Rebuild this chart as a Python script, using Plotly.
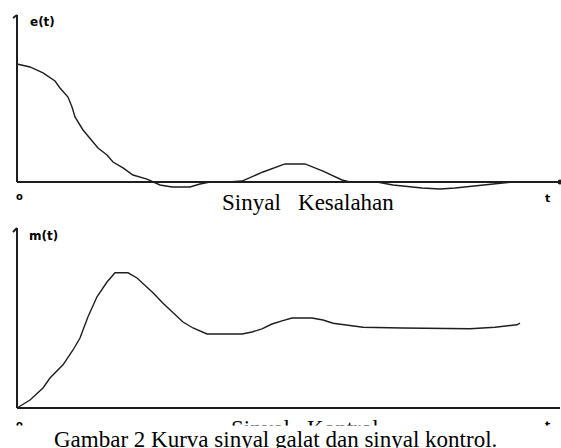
import plotly.graph_objects as go

# sinyal kesalahan e(t)
t_e = [0.00, 0.26, 0.52, 0.76, 0.86, 1.02, 1.10, 1.16, 1.32, 1.46, 1.62, 1.80, 1.92,
       2.12, 2.32, 2.60, 2.72, 2.86, 3.10, 3.46, 3.66, 3.86, 4.22, 4.50, 4.92, 5.36,
       5.76, 6.12, 6.50, 6.66, 7.20, 7.52, 8.10, 8.46, 8.76, 9.32, 9.60, 9.90]
e_vals = [1.000, 0.975, 0.924, 0.856, 0.797, 0.720, 0.636, 0.551, 0.441, 0.373, 0.288,
          0.229, 0.169, 0.119, 0.059, 0.025, 0.000, -0.025, -0.042, -0.042, -0.017,
          0.000, 0.000, 0.008, 0.085, 0.153, 0.153, 0.093, 0.017, 0.000, 0.000, -0.025,
          -0.051, -0.059, -0.051, -0.025, -0.008, 0.000]

# sinyal kontrol m(t)
t_m = [0.00, 0.26, 0.52, 0.66, 0.92, 1.12, 1.26, 1.42, 1.60, 1.80, 1.96, 2.22, 2.40,
       2.52, 2.72, 2.92, 3.12, 3.32, 3.52, 3.80, 4.50, 4.70, 4.90, 5.10, 5.30, 5.50,
       5.90, 6.12, 6.32, 6.60, 6.92, 7.70, 9.06, 9.56, 10.00, 10.06]
m_vals = [0.00, 0.10, 0.25, 0.375, 0.54, 0.725, 0.875, 1.14, 1.39, 1.575, 1.69, 1.69,
          1.625, 1.56, 1.44, 1.31, 1.19, 1.075, 1.00, 0.925, 0.925, 0.95, 0.99, 1.05,
          1.09, 1.125, 1.125, 1.10, 1.06, 1.04, 1.01, 1.00, 0.99, 1.01, 1.04, 1.06]

t_end = 10.86
e_top = 1.415
m_top = 2.25

W, H = 561, 448
ink = "#1e1e1e"
serif = "Times New Roman, Liberation Serif, serif"
small = "DejaVu Sans, Arial, sans-serif"


def px(x):
    return x / W


def py(y):
    return 1 - y / H


fig = go.Figure()
fig.add_trace(go.Scatter(x=t_e, y=e_vals, mode="lines", xaxis="x", yaxis="y",
                         line=dict(color=ink, width=1.4), hoverinfo="skip"))
fig.add_trace(go.Scatter(x=t_m, y=m_vals, mode="lines", xaxis="x2", yaxis="y2",
                         line=dict(color=ink, width=1.4), hoverinfo="skip"))
fig.add_trace(go.Scatter(x=[t_end], y=[0], mode="markers", xaxis="x", yaxis="y",
                         marker=dict(color=ink, size=5), hoverinfo="skip"))

shapes = []
for xr, yr, top in [("x", "y", e_top), ("x2", "y2", m_top)]:
    shapes.append(dict(type="line", xref=xr, yref=yr, x0=0, y0=0, x1=0, y1=top,
                       line=dict(color=ink, width=2)))
    shapes.append(dict(type="line", xref=xr, yref=yr, x0=0, y0=0, x1=t_end, y1=0,
                       line=dict(color=ink, width=2)))
shapes.append(dict(type="line", xref="x", yref="y", x0=-0.08, y0=1.39, x1=0, y1=e_top,
                   line=dict(color=ink, width=2)))
shapes.append(dict(type="line", xref="x2", yref="y2", x0=-0.08, y0=2.2, x1=0, y1=m_top,
                   line=dict(color=ink, width=2)))

annotations = [
    dict(text="<b>e(t)</b>", x=px(28), y=py(22), xanchor="left", font=dict(size=12, family=small)),
    dict(text="<b>m(t)</b>", x=px(27), y=py(236), xanchor="left", font=dict(size=12, family=small)),
    dict(text="<b>o</b>", x=px(19), y=py(197), font=dict(size=10, family=small)),
    dict(text="<b>t</b>", x=px(547), y=py(198), font=dict(size=11, family=small)),
    dict(text="Sinyal&nbsp;&nbsp; Kesalahan", x=px(308), y=py(202), font=dict(size=23, family=serif)),
    dict(text="<b>o</b>", x=px(19), y=py(424), font=dict(size=10, family=small)),
    dict(text="<b>t</b>", x=px(547), y=py(425), font=dict(size=11, family=small)),
    dict(text="Sinyal&nbsp;&nbsp; Kontrol", x=px(305), y=py(428), font=dict(size=23, family=serif)),
    # caption strip hides most of the lower label, like the source image
    dict(text=".", x=0, y=py(425), xanchor="left", yanchor="top", width=W, height=30,
         bgcolor="white", borderpad=0, font=dict(size=10, color="white")),
    dict(text="Gambar 2 Kurva sinyal galat dan sinyal kontrol.", x=px(275), y=py(439),
         font=dict(size=23, family=serif)),
]
for a in annotations:
    a.setdefault("xref", "paper")
    a.setdefault("yref", "paper")
    a.setdefault("xanchor", "center")
    a.setdefault("yanchor", "middle")
    a.setdefault("showarrow", False)
    a["font"].setdefault("color", "black")

hidden = dict(visible=False, fixedrange=True)
fig.update_layout(
    width=W, height=H,
    margin=dict(l=0, r=0, t=0, b=0),
    paper_bgcolor="white",
    plot_bgcolor="white",
    showlegend=False,
    xaxis=dict(domain=[0, 1], range=[-0.34, 10.88], anchor="y", **hidden),
    yaxis=dict(domain=[py(200), py(8)], range=[-0.1525, 1.4746], anchor="x", **hidden),
    xaxis2=dict(domain=[0, 1], range=[-0.34, 10.88], anchor="y2", **hidden),
    yaxis2=dict(domain=[py(425), py(222)], range=[-0.2125, 2.325], anchor="x2", **hidden),
    shapes=shapes,
    annotations=annotations,
)

fig.write_html("out.html", config={"displayModeBar": False},
               post_script="document.body.style.margin = '0';")
